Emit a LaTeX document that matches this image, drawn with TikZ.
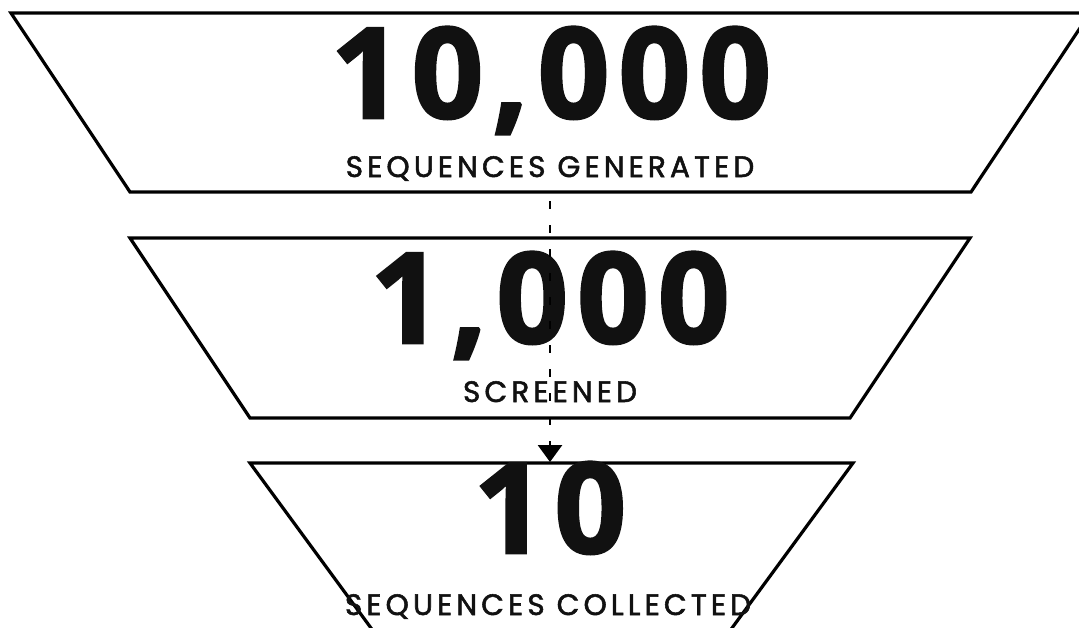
\documentclass[tikz,border=0pt]{standalone}
\usepackage{fontspec}
\usepackage{tikz}
\usetikzlibrary{arrows.meta,positioning,calc}
\newfontfamily\numfont{Open Sans}[BoldFeatures={FakeBold=2,LetterSpace=7}]
\newfontfamily\lblfont{Poppins}[LetterSpace=14,FakeBold=1.8]
\definecolor{FunInk}{HTML}{111111}

\begin{document}
\begin{tikzpicture}[x=1pt,y=-1pt,
    funnel/.style={draw=black,line width=3.2pt,line join=miter},
    bignum/.style={anchor=base,inner sep=0pt,text=FunInk,font=\numfont\bfseries\fontsize{126}{126}\selectfont},
    tag/.style={anchor=base,inner sep=0pt,text=FunInk,font=\lblfont\fontsize{29.5}{29.5}\selectfont}]
    \useasboundingbox (0,0) rectangle (1079,627);
    \clip (0,0) rectangle (1079,627);
    \fill[white] (0,0) rectangle (1079,627);
    % funnel stages
    \foreach \a/\b/\c/\d/\e/\f in {11/1090/13/130/971/192, 130/970/238/250/850/418, 250/853/463/382/721/643}{
      \draw[funnel] (\a,\c) -- (\b,\c) -- (\e,\f) -- (\d,\f) -- cycle;}
    \node[bignum] (num1) at (551,118) {10,000};
    \node[tag] (tag1) at (550,177) {SEQUENCES GENERATED};
    \node[bignum] (num2) at (550,343) {1,000};
    \node[tag] (tag2) at (550,402) {SCREENED};
    \node[bignum] (num3) at (550,553) {10};
    \node[tag] (tag3) at (548,615) {SEQUENCES COLLECTED};
    \coordinate (flowtop) at (550,201);
    \coordinate (flowend) at (550,462);
    \draw[line width=2.8pt,dash pattern=on 8pt off 16pt,-{Triangle[length=17pt,width=24pt]}] (flowtop) -- (flowend);
  \end{tikzpicture}
\end{document}
